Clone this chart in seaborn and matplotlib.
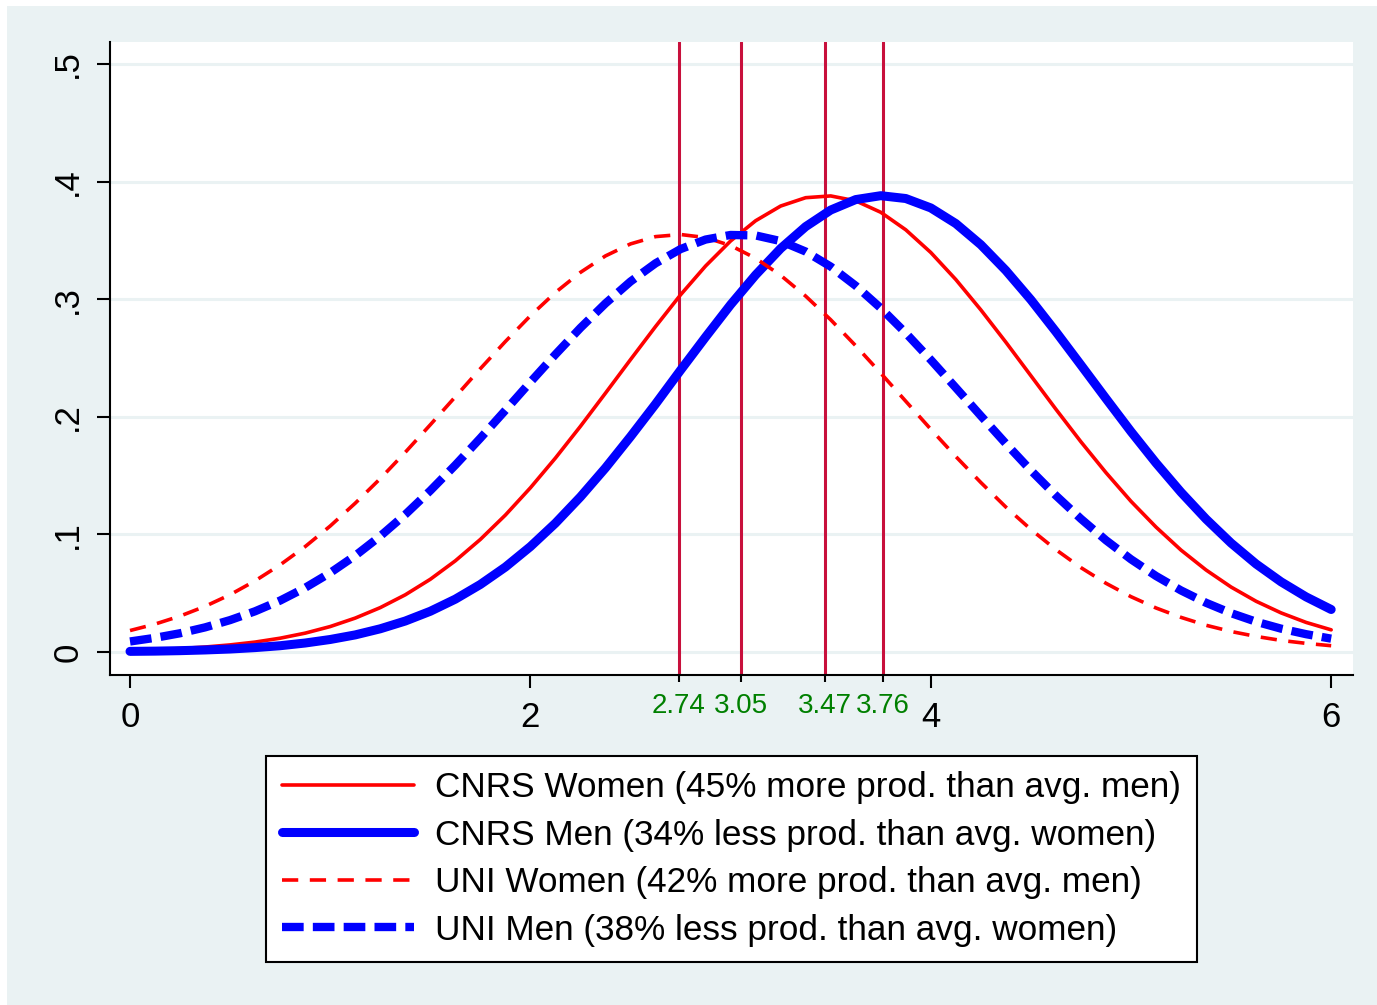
import numpy as np
import pandas as pd
import matplotlib
matplotlib.use("Agg")
import matplotlib.pyplot as plt
from matplotlib.patches import Rectangle
import seaborn as sns

# x grid of the density curves
x_vals = [0, 0.125, 0.25, 0.375, 0.5, 0.625, 0.75, 0.875, 1.0, 1.125, 1.25, 1.375,
          1.5, 1.625, 1.75, 1.875, 2.0, 2.125, 2.25, 2.375, 2.5, 2.625, 2.75, 2.875,
          3.0, 3.125, 3.25, 3.375, 3.5, 3.625, 3.75, 3.875, 4.0, 4.125, 4.25, 4.375,
          4.5, 4.625, 4.75, 4.875, 5.0, 5.125, 5.25, 5.375, 5.5, 5.625, 5.75, 5.875, 6.0]

cnrs_women = [0.0013, 0.0019, 0.0029, 0.0042, 0.0060, 0.0084, 0.0117, 0.0160, 0.0216,
              0.0288, 0.0377, 0.0486, 0.0618, 0.0775, 0.0957, 0.1164, 0.1396, 0.1649,
              0.1919, 0.2201, 0.2486, 0.2767, 0.3037, 0.3282, 0.3495, 0.3667, 0.3792,
              0.3863, 0.3878, 0.3836, 0.3739, 0.3590, 0.3397, 0.3167, 0.2909, 0.2634,
              0.2349, 0.2064, 0.1787, 0.1525, 0.1281, 0.1062, 0.0866, 0.0697, 0.0552,
              0.0431, 0.0332, 0.0251, 0.0188]
cnrs_men = [0.0005, 0.0007, 0.0011, 0.0017, 0.0025, 0.0037, 0.0053, 0.0076, 0.0106,
            0.0145, 0.0197, 0.0263, 0.0346, 0.0449, 0.0574, 0.0722, 0.0896, 0.1095,
            0.1319, 0.1565, 0.1831, 0.2108, 0.2396, 0.2678, 0.2953, 0.3206, 0.3431,
            0.3617, 0.3758, 0.3847, 0.3880, 0.3856, 0.3776, 0.3643, 0.3463, 0.3244,
            0.2995, 0.2723, 0.2440, 0.2155, 0.1874, 0.1607, 0.1358, 0.1130, 0.0926,
            0.0748, 0.0596, 0.0468, 0.0361]
uni_women = [0.0182, 0.0237, 0.0305, 0.0388, 0.0487, 0.0605, 0.0741, 0.0896, 0.1071,
             0.1265, 0.1474, 0.1698, 0.1932, 0.2170, 0.2409, 0.2640, 0.2859, 0.3057,
             0.3228, 0.3368, 0.3470, 0.3532, 0.3550, 0.3524, 0.3456, 0.3348, 0.3203,
             0.3026, 0.2825, 0.2604, 0.2371, 0.2132, 0.1894, 0.1662, 0.1441, 0.1232,
             0.1042, 0.0870, 0.0717, 0.0584, 0.0470, 0.0374, 0.0294, 0.0227, 0.0174,
             0.0132, 0.0098, 0.0073, 0.0053]
uni_men = [0.0089, 0.0120, 0.0159, 0.0209, 0.0271, 0.0346, 0.0437, 0.0546, 0.0673,
           0.0819, 0.0985, 0.1169, 0.1372, 0.1589, 0.1818, 0.2055, 0.2295, 0.2530,
           0.2756, 0.2964, 0.3150, 0.3305, 0.3426, 0.3507, 0.3546, 0.3542, 0.3494,
           0.3405, 0.3277, 0.3114, 0.2924, 0.2712, 0.2484, 0.2247, 0.2008, 0.1772,
           0.1544, 0.1330, 0.1132, 0.0950, 0.0788, 0.0646, 0.0523, 0.0418, 0.0330,
           0.0257, 0.0198, 0.0151, 0.0113]

# group means (vertical lines)
means = [2.74, 3.05, 3.47, 3.76]
mean_labels = ["2.74", "3.05", "3.47", "3.76"]

labels = ["CNRS Women (45% more prod. than avg. men)",
          "CNRS Men (34% less prod. than avg. women)",
          "UNI Women (42% more prod. than avg. men)",
          "UNI Men (38% less prod. than avg. women)"]

x_ticks = [0, 2, 4, 6]
y_ticks = [0, 0.1, 0.2, 0.3, 0.4, 0.5]
y_ticklabels = ["0", ".1", ".2", ".3", ".4", ".5"]

sns.set_style("white")
plt.rcParams["font.family"] = ["Liberation Sans", "DejaVu Sans"]
plt.rcParams["text.color"] = "black"
plt.rcParams["xtick.color"] = "black"
plt.rcParams["ytick.color"] = "black"
plt.rcParams["xtick.labelcolor"] = "black"
plt.rcParams["ytick.labelcolor"] = "black"

bg = "#EAF2F3"
fig = plt.figure(figsize=(13.77, 10.05), dpi=100)
fig.patch.set_facecolor("white")
fig.patches.append(Rectangle((7 / 1377, 0), 1 - 7 / 1377, 1 - 6 / 1005,
                             transform=fig.transFigure, facecolor=bg,
                             edgecolor="none", zorder=-10))

ax = fig.add_axes([110 / 1377, 1 - 675 / 1005, 1243 / 1377, 633 / 1005])
ax.set_facecolor("white")

for m in means:
    ax.axvline(m, color="#C8103C", lw=2.2, zorder=1)

df = pd.DataFrame({"x": x_vals, "cw": cnrs_women, "cm": cnrs_men,
                   "uw": uni_women, "um": uni_men})

sns.lineplot(data=df, x="x", y="cw", ax=ax, color="#FF0000", lw=2.6,
             label=labels[0], zorder=3)
sns.lineplot(data=df, x="x", y="cm", ax=ax, color="#0000FF", lw=6.5,
             label=labels[1], zorder=3)
sns.lineplot(data=df, x="x", y="uw", ax=ax, color="#FF0000", lw=2.6,
             linestyle=(0, (4.5, 3.2)), label=labels[2], zorder=3)
sns.lineplot(data=df, x="x", y="um", ax=ax, color="#0000FF", lw=6.0,
             linestyle=(0, (2.6, 1.1)), label=labels[3], zorder=3)

ax.set_xlim(-0.1, 6.109)
ax.set_ylim(-0.0196, 0.5187)

ax.set_yticks(y_ticks)
ax.set_yticklabels(y_ticklabels, rotation=90, va="center", fontsize=25,
                   color="black")
ax.set_xticks(x_ticks)
ax.set_xticklabels([str(t) for t in x_ticks], fontsize=25, color="black")
ax.set_xticks(means, minor=True)
ax.set_xticklabels(mean_labels, minor=True, fontsize=20, color="#008000")

ax.tick_params(axis="both", which="major", length=9.5, width=1.5,
               color="black", pad=9, direction="out", bottom=True, left=True)
ax.tick_params(axis="x", which="minor", length=5, width=1.5, color="black",
               pad=8, bottom=True)

ax.yaxis.grid(True, color=bg, lw=2.2)
ax.xaxis.grid(False)
ax.set_axisbelow(True)

for s in ["top", "right"]:
    ax.spines[s].set_visible(False)
for s in ["left", "bottom"]:
    ax.spines[s].set_color("black")
    ax.spines[s].set_linewidth(1.5)

ax.set_xlabel("")
ax.set_ylabel("")

handles, lbls = ax.get_legend_handles_labels()
ax.get_legend().remove()
leg = fig.legend(handles, lbls, loc="center",
                 bbox_to_anchor=((261 + 1202) / 2 / 1377, 1 - 859 / 1005),
                 fontsize=25.3, frameon=True, fancybox=False, framealpha=1,
                 edgecolor="black", handlelength=3.75, handletextpad=0.6,
                 labelspacing=0.41, borderpad=0.45, labelcolor="black")
leg.get_frame().set_linewidth(1.5)

plt.savefig("out.png", dpi=100, facecolor=fig.get_facecolor())
